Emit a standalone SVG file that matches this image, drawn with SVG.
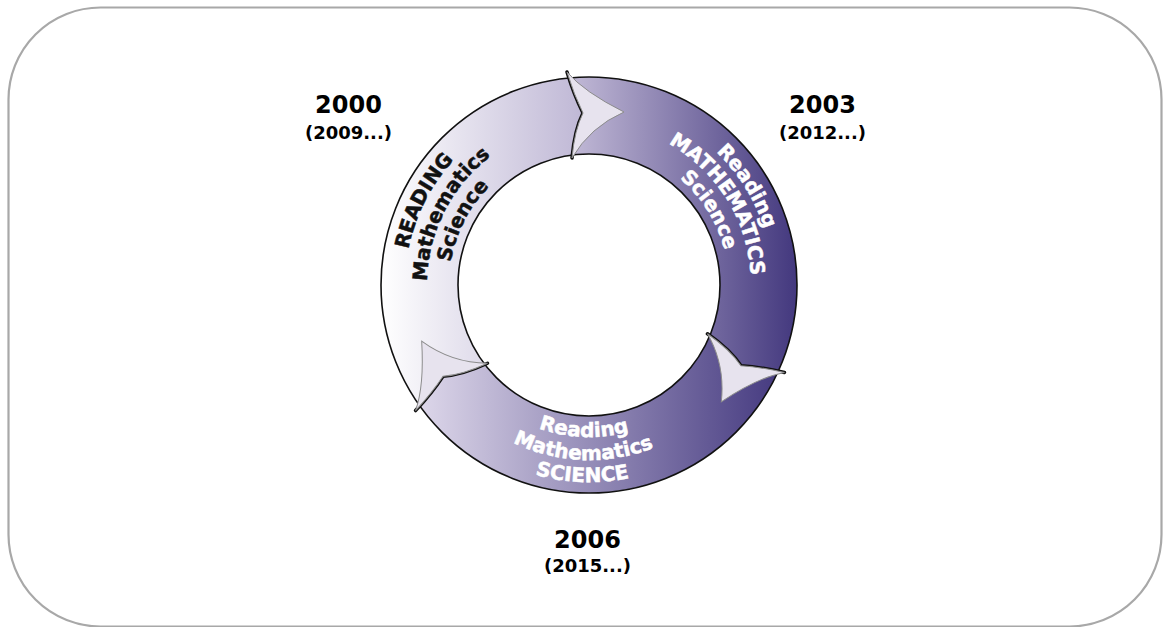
<svg xmlns="http://www.w3.org/2000/svg" width="1163" height="627" viewBox="0 0 1163 627">
<style>
.frame{fill:#fff;stroke:#a8a8a8;stroke-width:2.2}
.yr{font-family:"DejaVu Sans",sans-serif;font-weight:bold;font-size:24px;fill:#000;text-anchor:middle}
.yr2{font-family:"DejaVu Sans",sans-serif;font-weight:bold;font-size:18px;fill:#000;text-anchor:middle}
.rt{font-family:"DejaVu Sans",sans-serif;font-weight:bold;font-size:20px;text-anchor:middle;stroke-width:0.5}
.dark{fill:#111;stroke:#111}
.light{fill:#fff;stroke:#fff}
.ring{fill:none;stroke:#111;stroke-width:1.6}
.arrow{fill:#e7e3ee;stroke:#8c8c8c;stroke-width:1}
.edge{fill:none;stroke:#111;stroke-width:3.5;stroke-linecap:round}
</style>
<defs>
<linearGradient id="g1" gradientUnits="userSpaceOnUse" x1="381" y1="0" x2="590" y2="0"><stop offset="0" stop-color="#ffffff"/><stop offset="1" stop-color="#bdb5d4"/></linearGradient>
<linearGradient id="g2" gradientUnits="userSpaceOnUse" x1="567" y1="0" x2="797" y2="0" gradientTransform="rotate(-120 589 285)"><stop offset="0" stop-color="#c4bcd8"/><stop offset="1" stop-color="#43387e"/></linearGradient>
<linearGradient id="g3" gradientUnits="userSpaceOnUse" x1="412" y1="0" x2="780" y2="0" gradientTransform="rotate(-240 589 285)"><stop offset="0" stop-color="#e0daec"/><stop offset="1" stop-color="#453a80"/></linearGradient>
<path id="seg" d="M419.7,405.8 A208,208 0 0 1 569,78 Q575,97 583,113 Q574.5,131 572.5,155 A131,131 0 0 0 484.7,364.3 Q462.9,374.56 443.05,376.2 Q433.2,391.1 419.7,405.8 Z"/>
<path id="arrow" d="M567,72 Q584,92 624,112 Q590,127 572,158 Q574.5,130 583,113 Q574,95 567,72 Z"/>
<path id="edge" d="M567,72 Q574,95 583,113 Q574.5,130 572,158"/>
<path id="p1a" d="M454.4,410.5 A184,184 0 0 1 611.4,102.4"/>
<path id="p1b" d="M470.5,395.5 A162,162 0 0 1 608.7,124.2"/>
<path id="p1c" d="M486.6,380.5 A140,140 0 0 1 606.1,146"/>
<path id="p2a" d="M550.7,105 A184,184 0 0 1 734,398.3"/>
<path id="p2b" d="M555.3,126.5 A162,162 0 0 1 716.7,384.7"/>
<path id="p2c" d="M559.9,148.1 A140,140 0 0 1 699.3,371.2"/>
<path id="p3a" d="M444.4,332 A152,152 0 0 0 729.9,341.9"/>
<path id="p3b" d="M422.6,339.1 A175,175 0 0 0 751.3,350.6"/>
<path id="p3c" d="M401.6,345.9 A197,197 0 0 0 771.7,358.8"/>
</defs>
<rect class="frame" x="8.5" y="7.5" width="1153" height="619" rx="92" ry="92"/>
<g id="node-2000">
<use href="#seg" fill="url(#g1)"/>
<text class="rt dark"><textPath href="#p1a" startOffset="50%">READING</textPath></text>
<text class="rt dark"><textPath href="#p1b" startOffset="50%">Mathematics</textPath></text>
<text class="rt dark"><textPath href="#p1c" startOffset="50%">Science</textPath></text>
<text class="yr" x="348.5" y="113">2000</text>
<text class="yr2" x="348.5" y="139">(2009...)</text>
</g>
<g id="node-2003">
<g transform="rotate(120 589 285)"><use href="#seg" fill="url(#g2)"/></g>
<text class="rt light"><textPath href="#p2a" startOffset="50%">Reading</textPath></text>
<text class="rt light"><textPath href="#p2b" startOffset="50%">MATHEMATICS</textPath></text>
<text class="rt light"><textPath href="#p2c" startOffset="50%">Science</textPath></text>
<text class="yr" x="822.5" y="113">2003</text>
<text class="yr2" x="822.5" y="139">(2012...)</text>
</g>
<g id="node-2006">
<g transform="rotate(240 589 285)"><use href="#seg" fill="url(#g3)"/></g>
<text class="rt light"><textPath href="#p3a" startOffset="50%">Reading</textPath></text>
<text class="rt light"><textPath href="#p3b" startOffset="50%">Mathematics</textPath></text>
<text class="rt light"><textPath href="#p3c" startOffset="50%">SCIENCE</textPath></text>
<text class="yr" x="587.5" y="548">2006</text>
<text class="yr2" x="587.5" y="572">(2015...)</text>
</g>
<g id="ring-outline">
<circle class="ring" cx="589" cy="285" r="208"/>
<circle class="ring" cx="589" cy="285" r="131"/>
</g>
<g id="connectors">
<g><use href="#edge" class="edge"/><use href="#arrow" class="arrow"/></g>
<g transform="rotate(120 589 285)"><use href="#edge" class="edge"/><use href="#arrow" class="arrow"/></g>
<g transform="rotate(240 589 285)"><use href="#edge" class="edge"/><use href="#arrow" class="arrow"/></g>
</g>
</svg>
